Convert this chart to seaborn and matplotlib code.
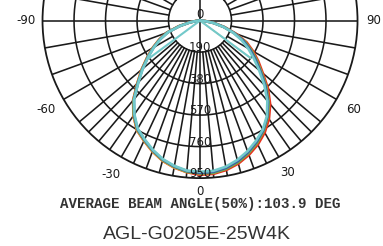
import numpy as np
import pandas as pd
import matplotlib
matplotlib.use("Agg")
import matplotlib.pyplot as plt
import seaborn as sns

# gamma angles, degrees (negative = left half)
angles = list(range(-90, 95, 5))

# luminous intensity per C-plane, cd/klm
red = [0, 25, 68, 135, 215, 272, 330, 390, 460, 535, 628, 700, 762, 800, 840, 875, 900, 918,
       930,
       928, 915, 893, 862, 825, 780, 725, 658, 580, 495, 430, 370, 310, 230, 155, 90, 35, 0]
orange = [0, 24, 66, 133, 213, 271, 329, 389, 459, 534, 626, 699, 761, 799, 839, 874, 899, 916,
          920,
          920, 905, 882, 850, 812, 766, 710, 642, 562, 480, 414, 354, 294, 220, 150, 86, 32, 0]
green = [0, 22, 64, 130, 210, 268, 326, 386, 456, 531, 623, 696, 758, 796, 836, 871, 896, 915,
         922,
         922, 908, 885, 852, 814, 768, 712, 645, 566, 483, 418, 358, 298, 222, 150, 86, 32, 0]
blue = [0, 21, 62, 127, 207, 265, 323, 383, 453, 528, 620, 693, 755, 793, 833, 868, 893, 911,
        918,
        916, 902, 878, 845, 807, 763, 707, 638, 558, 475, 408, 348, 288, 218, 148, 84, 30, 0]
cyan = [0, 20, 60, 125, 205, 262, 320, 380, 450, 525, 618, 690, 752, 790, 830, 865, 890, 908,
        912,
        910, 895, 870, 838, 800, 758, 703, 632, 548, 465, 395, 335, 275, 212, 145, 80, 25, 0]

planes = ["red", "orange", "green", "blue", "cyan"]
colors = {"red": "#e8321e", "orange": "#f0a23a", "green": "#6db24a",
          "blue": "#3d5ca8", "cyan": "#72c9ca"}

# straight strokes from the centre
cut_angle = 53.5
cut_r = 380

ring_values = [190, 380, 570, 760, 950]
ring_labels = ["190", "380", "570", "760", "950"]
angle_ticks = [-90, -60, -30, 0, 30, 60, 90]
angle_labels = ["-90", "-60", "-30", "0", "30", "60", "90"]

beam_text = "AVERAGE BEAM ANGLE(50%):103.9 DEG"
title = "AGL-G0205E-25W4K"

sns.set_theme(style="white")
plt.rcParams["font.family"] = ["DejaVu Sans"]

rows = []
for name, vals in zip(planes, [red, orange, green, blue, cyan]):
    for a, v in zip(angles, vals):
        rows.append({"plane": name, "theta": np.deg2rad(a), "r": v})
df = pd.DataFrame(rows)

fig = plt.figure(figsize=(3.83, 2.46), dpi=100)
ax = fig.add_axes([0.1110, 0.2760, 0.8225, 1.2805], projection="polar")
ax.set_theta_zero_location("S")
ax.set_rlim(0, 950)
ax.grid(False)
ax.set_xticks([])
ax.set_yticks([])
ax.spines["polar"].set_linewidth(1.3)
ax.spines["polar"].set_color("#1a1a1a")

gc = "#1a1a1a"
t = np.linspace(0, 2 * np.pi, 721)
for rv in ring_values[:-1]:
    ax.plot(t, np.full_like(t, rv), color=gc, lw=1.15, zorder=1)
# spokes every 10 deg, plus 5 deg near the axis
for d in range(0, 360, 10):
    r0 = 0 if d % 90 == 0 else 190
    ax.plot([np.deg2rad(d)] * 2, [r0, 950], color=gc, lw=1.15, zorder=1)
for d in range(-45, 50, 10):
    ax.plot([np.deg2rad(d)] * 2, [190, 950], color=gc, lw=1.15, zorder=1)

sns.lineplot(data=df, x="theta", y="r", hue="plane", palette=colors,
             hue_order=planes, sort=False, estimator=None, legend=False,
             lw=1.9, ax=ax, zorder=3)
ax.plot([np.deg2rad(cut_angle)] * 2, [0, cut_r], color=colors["orange"], lw=0.9, zorder=3)
for s in (-1, 1):
    ax.plot([np.deg2rad(s * cut_angle)] * 2, [0, cut_r], color=colors["cyan"], lw=1.5, zorder=3)
ax.set_xlabel("")
ax.set_ylabel("")
ax.set_rlim(0, 950)

for rv, lab in zip(ring_values, ring_labels):
    ax.text(0, rv - 27, lab, ha="center", va="center", fontsize=8.5, color=gc, zorder=4)
ax.text(np.pi, 34, "0", ha="center", va="center", fontsize=8.5, color=gc, zorder=4)
label_r = {-90: 1050, -60: 1070, -30: 1070, 0: 1030, 30: 1060, 60: 1070, 90: 1045}
for a, lab in zip(angle_ticks, angle_labels):
    ax.text(np.deg2rad(a), label_r[a], lab, ha="center", va="center", fontsize=8.5,
            color=gc, clip_on=False)

fig.text(0.5235, 1 - 204 / 246, beam_text, ha="center", va="center",
         family="Liberation Mono", weight="bold", fontsize=10.2, color="#333333")
fig.text(0.513, 1 - 234.5 / 246, title, ha="center", va="center",
         family="Liberation Sans", fontsize=14, color="#333333")

fig.savefig("out.png", dpi=100)
